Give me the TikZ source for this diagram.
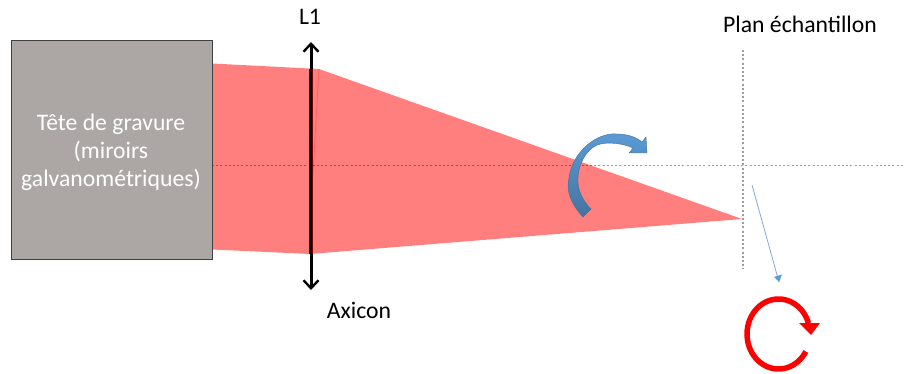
\documentclass[tikz,border=0pt]{standalone}
\usepackage{fontspec}
\setmainfont{Carlito}
\usetikzlibrary{arrows.meta}
\definecolor{beam}{HTML}{FF7F7F}
\definecolor{headbox}{HTML}{ACA7A5}
\definecolor{curvetop}{HTML}{5B9BD5}
\definecolor{curvebot}{HTML}{44749F}
\definecolor{curveedge}{HTML}{41719C}
\definecolor{thinblue}{HTML}{7FA8D6}
\definecolor{lensdark}{HTML}{7A0000}
\tikzset{
  lbl/.style={font=\fontsize{23.7}{29}\selectfont, text=black, inner sep=0pt},
  guide/.style={black, opacity=0.38, line width=1.2pt, dash pattern=on 2pt off 2.2pt},
}
\begin{document}
\begin{tikzpicture}[x=1pt,y=-1pt]
\useasboundingbox (0,0) rectangle (904,374);
\coordinate (focus) at (742,219);
\coordinate (axisL) at (212,165.5);
\coordinate (axisR) at (903,165.5);
\coordinate (planT) at (743,50);
\coordinate (planB) at (743,269);
\coordinate (lensT) at (311,42);
\coordinate (lensB) at (311,290);
\coordinate (lensBeamT) at (311,68.6);
\coordinate (lensBeamB) at (311,254);
\coordinate (thinA) at (752,185);
\coordinate (thinB) at (779,282);
% beam
\fill[beam] (212,63.5) -- (319,69) -- (focus) -- (310,254) -- (212,249.5) -- cycle;
\draw[red!30!beam, line width=0.6pt] (319,69) -- (312,190);
% guides
\draw[guide] (axisL) -- (axisR);
\draw[guide] (planT) -- (planB);
% box
\node[draw=black!75, line width=0.9pt, fill=headbox, minimum width=201pt, minimum height=219pt, inner sep=0pt, anchor=north west, outer sep=0pt] (head) at (11,40) {};
\node[font=\fontsize{23.7}{28}\selectfont, text=white, align=center, inner sep=0pt] (headtxt) at (111,152) {Tête de gravure\\(miroirs\\galvanométriques)};
% lens
\draw[black, line width=3pt, {Straight Barb[length=8pt,width=15pt,line width=2.4pt]}-{Straight Barb[length=8pt,width=15pt,line width=2.4pt]}] (lensT) -- (lensB);
\draw[lensdark, line width=3.6pt] (lensBeamT) -- (lensBeamB);
\draw[black, line width=2.4pt] (lensBeamT) -- (lensBeamB);
% curved arrow
\shade[top color=curvetop, bottom color=curvebot, draw=curveedge, line width=0.4pt]
 (583,217) .. controls (570,203) and (566,190) .. (569,178)
 .. controls (572,152) and (597,132) .. (617,134)
 .. controls (627,134) and (636,137) .. (642,142)
 -- (646,137) -- (647,153) -- (629,153) -- (633,148)
 .. controls (625,144) and (608,141) .. (597,145)
 .. controls (586,150) and (578,165) .. (578,178)
 .. controls (577,190) and (583,201) .. (591,209) -- cycle;
% thin arrow
\draw[thinblue, line width=0.8pt] (thinA) -- (thinB);
\fill[curvetop] (774,277) -- (782,274.5) -- (779,282) -- cycle;
% red circular arrow
\draw[red, line width=5.5pt] (805.8,351.5) arc[start angle=30, end angle=342, x radius=31.5, y radius=35];
\fill[red] (799,323) -- (820,323) -- (811,335) -- cycle;
% labels
\node[lbl] (l1) at (310,17) {L1};
\node[lbl] (axicon) at (359,310) {Axicon};
\node[lbl] (plan) at (800,24) {Plan échantillon};
\end{tikzpicture}
\end{document}
